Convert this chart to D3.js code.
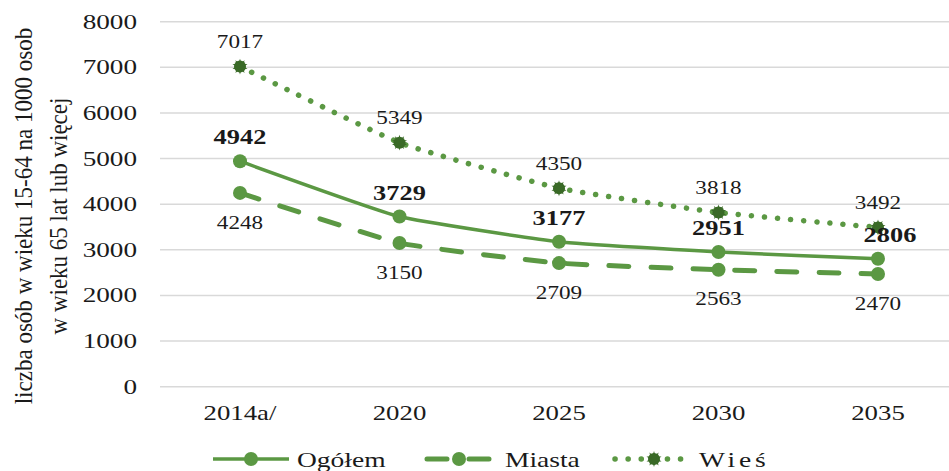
<!DOCTYPE html>
<html><head><meta charset="utf-8">
<script src="https://cdn.jsdelivr.net/npm/d3@7/dist/d3.min.js"></script>
<style>
html,body{margin:0;padding:0;background:#fff;}
svg{display:block;}
</style></head>
<body><svg id="c" width="949" height="471"></svg>
<script>
const categories = ["2014a/", "2020", "2025", "2030", "2035"];
const ogolem = [4942, 3729, 3177, 2951, 2806];
const miasta = [4248, 3150, 2709, 2563, 2470];
const wies = [7017, 5349, 4350, 3818, 3492];
const yTicks = [0, 1000, 2000, 3000, 4000, 5000, 6000, 7000, 8000];
const seriesNames = ["Ogółem", "Miasta", "Wieś"];
const yTitle = ["liczba osób w wieku 15-64 na 1000 osob", "w wieku 65 lat lub więcej"];

const W = 949, H = 471;
const FONT = "'Liberation Serif', 'Times New Roman', serif";
const svg = d3.select("#c");
const green = "#5b9843", dark = "#3a6a27";

const x = d3.scalePoint().domain(categories).range([240, 878]);
const y = d3.scaleLinear().domain([0, 8000]).range([386.7, 21.7]);

// gridlines
svg.append("g").selectAll("line").data(yTicks).join("line")
  .attr("x1", 160).attr("x2", W).attr("y1", d => y(d)).attr("y2", d => y(d))
  .attr("stroke", "#d9d9d9").attr("stroke-width", 1.5);

function stext(g, xx, yy, txt, opts) {
  opts = opts || {};
  return g.append("text")
    .attr("transform", `translate(${xx},${yy}) scale(${opts.sx || 1.3},1)`)
    .attr("text-anchor", opts.anchor || "middle")
    .attr("dy", "0.35em")
    .attr("font-family", FONT)
    .attr("font-size", opts.size || 20)
    .attr("font-weight", opts.weight || "normal")
    .attr("letter-spacing", opts.ls || 0)
    .attr("fill", "#1a1a1a")
    .text(txt);
}

// y axis labels
const ya = svg.append("g");
yTicks.forEach(t => stext(ya, 137, y(t), String(t), {anchor: "end", size: 20, sx: 1.36}));
// x axis labels
const xa = svg.append("g");
categories.forEach(c => stext(xa, x(c), 413, c, {size: 20, sx: 1.34}));

// y title
const yt = svg.append("g");
[[23, yTitle[0], 377], [58, yTitle[1], 237]].forEach(([cx, txt, len]) => {
  const t = yt.append("text").attr("font-family", FONT).attr("font-size", 20).attr("text-anchor", "middle")
    .attr("dy", "0.35em").attr("fill", "#1a1a1a").text(txt);
  const L = t.node().getComputedTextLength();
  t.attr("transform", `translate(${cx},216) rotate(-90) scale(${len / L},1.3)`);
});

const curve = d3.curveCardinal.tension(0.6);
const line = d3.line().x((d, i) => x(categories[i])).y(d => y(d)).curve(curve);

// Wieś
svg.append("path").datum(wies).attr("d", line).attr("fill", "none")
  .attr("stroke", green).attr("stroke-width", 5.5).attr("stroke-linecap", "round")
  .attr("stroke-dasharray", "0.1,13");
// Miasta
svg.append("path").datum(miasta).attr("d", line).attr("fill", "none")
  .attr("stroke", green).attr("stroke-width", 5).attr("stroke-linecap", "round")
  .attr("stroke-dasharray", "20,22");
// Ogółem
svg.append("path").datum(ogolem).attr("d", line).attr("fill", "none")
  .attr("stroke", green).attr("stroke-width", 3.5);

const star = d3.symbol().type(d3.symbolStar).size(70);
function starMarker(g, cx, cy) {
  g.append("circle").attr("cx", cx).attr("cy", cy).attr("r", 6).attr("fill", dark);
  g.append("path").attr("d", star).attr("transform", `translate(${cx},${cy})`).attr("fill", dark);
  g.append("path").attr("d", star).attr("transform", `translate(${cx},${cy}) rotate(36)`).attr("fill", dark);
}

const mk = svg.append("g");
categories.forEach((c, i) => {
  mk.append("circle").attr("cx", x(c)).attr("cy", y(miasta[i])).attr("r", 7).attr("fill", green);
  mk.append("circle").attr("cx", x(c)).attr("cy", y(ogolem[i])).attr("r", 7).attr("fill", green);
  starMarker(mk, x(c), y(wies[i]));
});

// data labels
const lb = svg.append("g");
categories.forEach((c, i) => {
  stext(lb, x(c), y(wies[i]) - 25, String(wies[i]), {size: 19, sx: 1.22});
  stext(lb, x(c) + (i === categories.length - 1 ? 12 : 0), y(ogolem[i]) - 24, String(ogolem[i]), {size: 20, weight: "bold", sx: 1.32});
  stext(lb, x(c), y(miasta[i]) + 29, String(miasta[i]), {size: 19, sx: 1.22});
});

// legend
const lg = svg.append("g");
const ly = 459;
// Ogółem
lg.append("line").attr("x1", 213).attr("x2", 289).attr("y1", ly).attr("y2", ly).attr("stroke", green).attr("stroke-width", 3.5);
lg.append("circle").attr("cx", 251).attr("cy", ly).attr("r", 7).attr("fill", green);
stext(lg, 297, ly, seriesNames[0], {anchor: "start", size: 22, sx: 1.25});
// Miasta
lg.append("line").attr("x1", 427).attr("x2", 491).attr("y1", ly).attr("y2", ly).attr("stroke", green).attr("stroke-width", 5).attr("stroke-linecap", "round").attr("stroke-dasharray", "20,22");
lg.append("circle").attr("cx", 459).attr("cy", ly).attr("r", 7).attr("fill", green);
stext(lg, 505, ly, seriesNames[1], {anchor: "start", size: 22, sx: 1.25});
// Wieś
lg.append("line").attr("x1", 615).attr("x2", 690).attr("y1", ly).attr("y2", ly).attr("stroke", green).attr("stroke-width", 5.5).attr("stroke-linecap", "round").attr("stroke-dasharray", "0.1,13");
starMarker(lg, 654, ly);
stext(lg, 699, ly, seriesNames[2], {anchor: "start", size: 22, sx: 1.25, ls: 3});
</script></body></html>
